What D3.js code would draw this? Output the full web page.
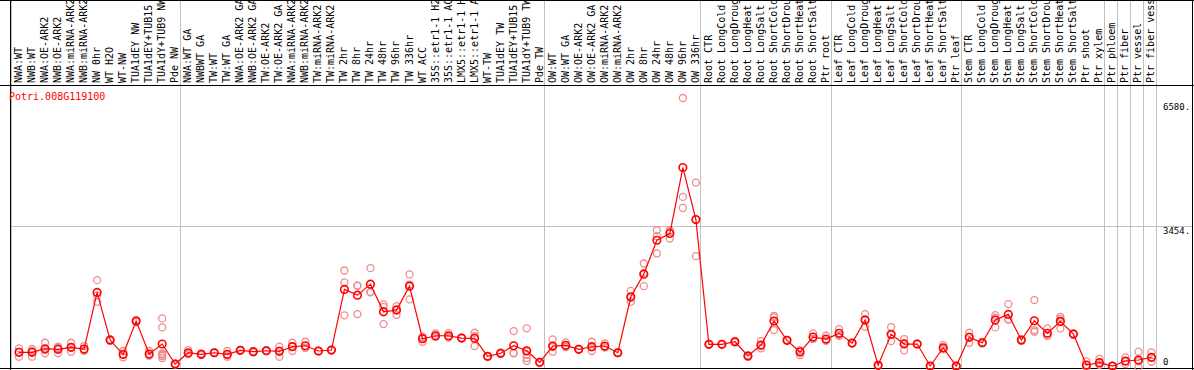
<!DOCTYPE html>
<html>
<head>
<meta charset="utf-8">
<script src="https://cdn.jsdelivr.net/npm/d3@7"></script>
<style>
  body { margin: 0; background: #fff; }
  svg text { font-family: "DejaVu Sans Mono", "Liberation Mono", monospace; }
</style>
</head>
<body>
<div id="chart"></div>
<script>
var geneId = 'Potri.008G119100'

var samples = [
  'NWA:WT', 'NWB:WT', 'NWA:OE-ARK2', 'NWB:OE-ARK2', 'NWA:miRNA-ARK2', 'NWB:miRNA-ARK2',
  'NW 0hr', 'WT H2O', 'WT-NW', 'TUA1dEY NW', 'TUA1dEY+TUB15 NW', 'TUA1dY+TUB9 NW', 'Pde NW',
  'NWA:WT GA', 'NWBWT GA', 'TW:WT', 'TW:WT GA', 'NWA:OE-ARK2 GA', 'NWB:OE-ARK2 GA',
  'TW:OE-ARK2', 'TW:OE-ARK2 GA', 'NWA:miRNA-ARK2 GA', 'NWB:miRNA-ARK2 GA', 'TW:miRNA-ARK2',
  'TW:miRNA-ARK2 GA', 'TW 2hr', 'TW 8hr', 'TW 24hr', 'TW 48hr', 'TW 96hr', 'TW 336hr',
  'WT ACC', '35S::etr1-1 H2O', '35S::etr1-1 ACC', 'LMX5::etr1-1 H2O', 'LMX5::etr1-1 ACC',
  'WT-TW', 'TUA1dEY TW', 'TUA1dEY+TUB15 TW', 'TUA1dY+TUB9 TW', 'Pde TW',
  'OW:WT', 'OW:WT GA', 'OW:OE-ARK2', 'OW:OE-ARK2 GA', 'OW:miRNA-ARK2', 'OW:miRNA-ARK2 GA',
  'OW 2hr', 'OW 8hr', 'OW 24hr', 'OW 48hr', 'OW 96hr', 'OW 336hr',
  'Root CTR', 'Root LongCold', 'Root LongDrought', 'Root LongHeat', 'Root LongSalt',
  'Root ShortCold', 'Root ShortDrought', 'Root ShortHeat', 'Root ShortSalt', 'Ptr root',
  'Leaf CTR', 'Leaf LongCold', 'Leaf LongDrought', 'Leaf LongHeat', 'Leaf LongSalt',
  'Leaf ShortCold', 'Leaf ShortDrought', 'Leaf ShortHeat', 'Leaf ShortSalt', 'Ptr leaf',
  'Stem CTR', 'Stem LongCold', 'Stem LongDrought', 'Stem LongHeat', 'Stem LongSalt',
  'Stem ShortCold', 'Stem ShortDrought', 'Stem ShortHeat', 'Stem ShortSalt', 'Ptr shoot',
  'Ptr xylem', 'Ptr phloem', 'Ptr fiber', 'Ptr vessel', 'Ptr fiber vessel'
]

// last sample index of each group (grey separators)
var groupEnds = [13, 41, 53, 63, 73, 84, 85, 86, 87, 88]

var means = [
  359, 359, 447, 432, 481, 440, 1824, 659, 310, 1123, 317, 562, 73,
  349, 310, 349, 310, 408, 374, 398, 383, 496, 520, 391, 415,
  1897, 1758, 2027, 1350, 1392, 1978, 691, 764, 764, 708, 701, 261, 335, 520, 398, 115,
  513, 530, 432, 496, 513, 349, 1717, 2271, 3101, 3265, 4877, 3607,
  554, 554, 618, 269, 537, 1123, 652, 366, 733, 684,
  823, 586, 1148, 42, 799, 562, 562, 24, 471, 24,
  725, 593, 1148, 1287, 659, 1131, 823, 1116, 806, 47,
  105, 24, 147, 171, 237
]

var replicates = [
  [457, 252, 368], [440, 252, 385], [593, 335, 413], [496, 335, 465], [593, 374, 476], [513, 410, 397],
  [2125, 1595, 1752], [680, 640, 657], [391, 237, 302], [1148, 1100, 1121], [391, 280, 280],
  [1189, 969, 330, 270, 220, 300], [80, 60, 79],
  [415, 320, 312], [330, 290, 310], [360, 340, 347], [391, 252, 287], [420, 400, 404], [390, 360, 372],
  [410, 390, 394], [496, 252, 401], [593, 391, 504], [618, 470, 472], [400, 380, 393], [420, 410, 415],
  [2361, 2068, 1263], [1985, 1995, 1294], [2418, 1824, 1839], [1531, 1469, 1050], [1490, 1277, 1409],
  [2264, 1653, 2017], [618, 740, 715], [820, 740, 732], [830, 740, 722], [708, 700, 716], [838, 513, 752],
  [261, 250, 272], [335, 320, 350], [879, 335, 346], [945, 380, 300, 220, 145], [115, 110, 120],
  [676, 374, 489], [603, 500, 487], [432, 440, 424], [618, 391, 479], [579, 480, 480], [349, 340, 358],
  [1863, 1595, 1693], [2532, 1978, 2303], [3345, 3199, 2777], [3345, 3143, 3307], [6580, 4160, 3890],
  [4510, 2711, 3600],
  [554, 560, 548], [554, 550, 558], [640, 600, 614], [269, 250, 288], [635, 457, 519],
  [1253, 904, 1212], [652, 640, 664], [293, 400, 405], [823, 690, 686], [764, 650, 638],
  [928, 780, 761], [586, 580, 592], [1294, 984, 1166], [42, 30, 54], [977, 635, 785],
  [684, 408, 594], [562, 570, 554], [24, 20, 28], [537, 430, 446], [24, 20, 28],
  [838, 593, 744], [593, 580, 606], [1270, 969, 1205], [1538, 1165, 1158], [659, 640, 678],
  [1636, 904, 862], [945, 760, 764], [1228, 945, 1175], [806, 790, 822], [140, 0, 0],
  [200, 60, 55], [24, 20, 28], [237, 73, 131], [374, 0, 139], [359, 129, 223]
]

var yTicks = [0, 3454, 6580]

var width = 1194
var height = 370
var labelBottom = 85
var plotBottom = 368

var svg = d3.select('#chart')
  .append('svg')
  .attr('width', width)
  .attr('height', height)

var x = d3.scaleBand()
  .domain(d3.range(samples.length))
  .range([10.5, 1156])

var y = d3.scaleLinear()
  .domain([0, 6580])
  .range([367, 98])

function px(v) { return Math.round(v) + 0.5 }

// grey separators
svg.append('g')
  .selectAll('line')
  .data([0].concat(groupEnds))
  .join('line')
  .attr('x1', d => px(d < samples.length ? x(d) : x.range()[1]))
  .attr('x2', d => px(d < samples.length ? x(d) : x.range()[1]))
  .attr('y1', 0)
  .attr('y2', plotBottom)
  .attr('stroke', '#c0c0c0')

// horizontal grid at middle tick
svg.append('line')
  .attr('x1', 10).attr('x2', 1193)
  .attr('y1', px(y(yTicks[1]))).attr('y2', px(y(yTicks[1])))
  .attr('stroke', '#c0c0c0')

// frame
var frame = svg.append('g').attr('stroke', '#000').attr('fill', 'none')
frame.append('line').attr('x1', 0).attr('x2', width).attr('y1', 0.5).attr('y2', 0.5)
frame.append('line').attr('x1', 0).attr('x2', width).attr('y1', labelBottom + 0.5).attr('y2', labelBottom + 0.5)
frame.append('line').attr('x1', 0).attr('x2', width).attr('y1', plotBottom + 0.5).attr('y2', plotBottom + 0.5)
frame.append('line').attr('x1', 10.5).attr('x2', 10.5).attr('y1', 0).attr('y2', height)
frame.append('line').attr('x1', 1192.5).attr('x2', 1192.5).attr('y1', 0).attr('y2', height)

// sample labels, rotated
svg.append('g')
  .selectAll('text')
  .data(samples)
  .join('text')
  .attr('transform', (d, i) => 'translate(' + (x(i) + 11.5) + ',' + (labelBottom - 2) + ') rotate(-90)')
  .attr('font-size', 10)
  .attr('fill', '#000')
  .text(d => d)

// title
svg.append('text')
  .attr('x', 9)
  .attr('y', 100)
  .attr('font-size', 10)
  .attr('fill', '#ff0000')
  .text(geneId)

// y tick labels
svg.append('g')
  .selectAll('text')
  .data(yTicks)
  .join('text')
  .attr('x', 1163)
  .attr('y', d => Math.min(Math.max(y(d) + 8, 110), plotBottom - 3.5))
  .attr('font-size', 9)
  .attr('fill', '#000')
  .text(d => d == 0 ? '0' : d + '.')

function cx(i) { return x(i) + 8.5 }

// replicates
var reps = []
replicates.forEach(function (r, i) { r.forEach(v => reps.push({ i: i, v: v })) })
svg.append('g')
  .selectAll('circle')
  .data(reps)
  .join('circle')
  .attr('cx', d => cx(d.i))
  .attr('cy', d => y(d.v))
  .attr('r', 3.5)
  .attr('fill', 'none')
  .attr('stroke', '#ee8c8c')
  .attr('stroke-width', 1.3)

// mean line
svg.append('path')
  .datum(means)
  .attr('d', d3.line().x((d, i) => cx(i)).y(d => y(d)))
  .attr('fill', 'none')
  .attr('stroke', '#ff0000')
  .attr('stroke-width', 1.2)

svg.append('g')
  .selectAll('circle')
  .data(means)
  .join('circle')
  .attr('cx', (d, i) => cx(i))
  .attr('cy', d => y(d))
  .attr('r', 3.8)
  .attr('fill', 'none')
  .attr('stroke', '#ff0000')
  .attr('stroke-width', 1.6)
</script>
</body>
</html>
